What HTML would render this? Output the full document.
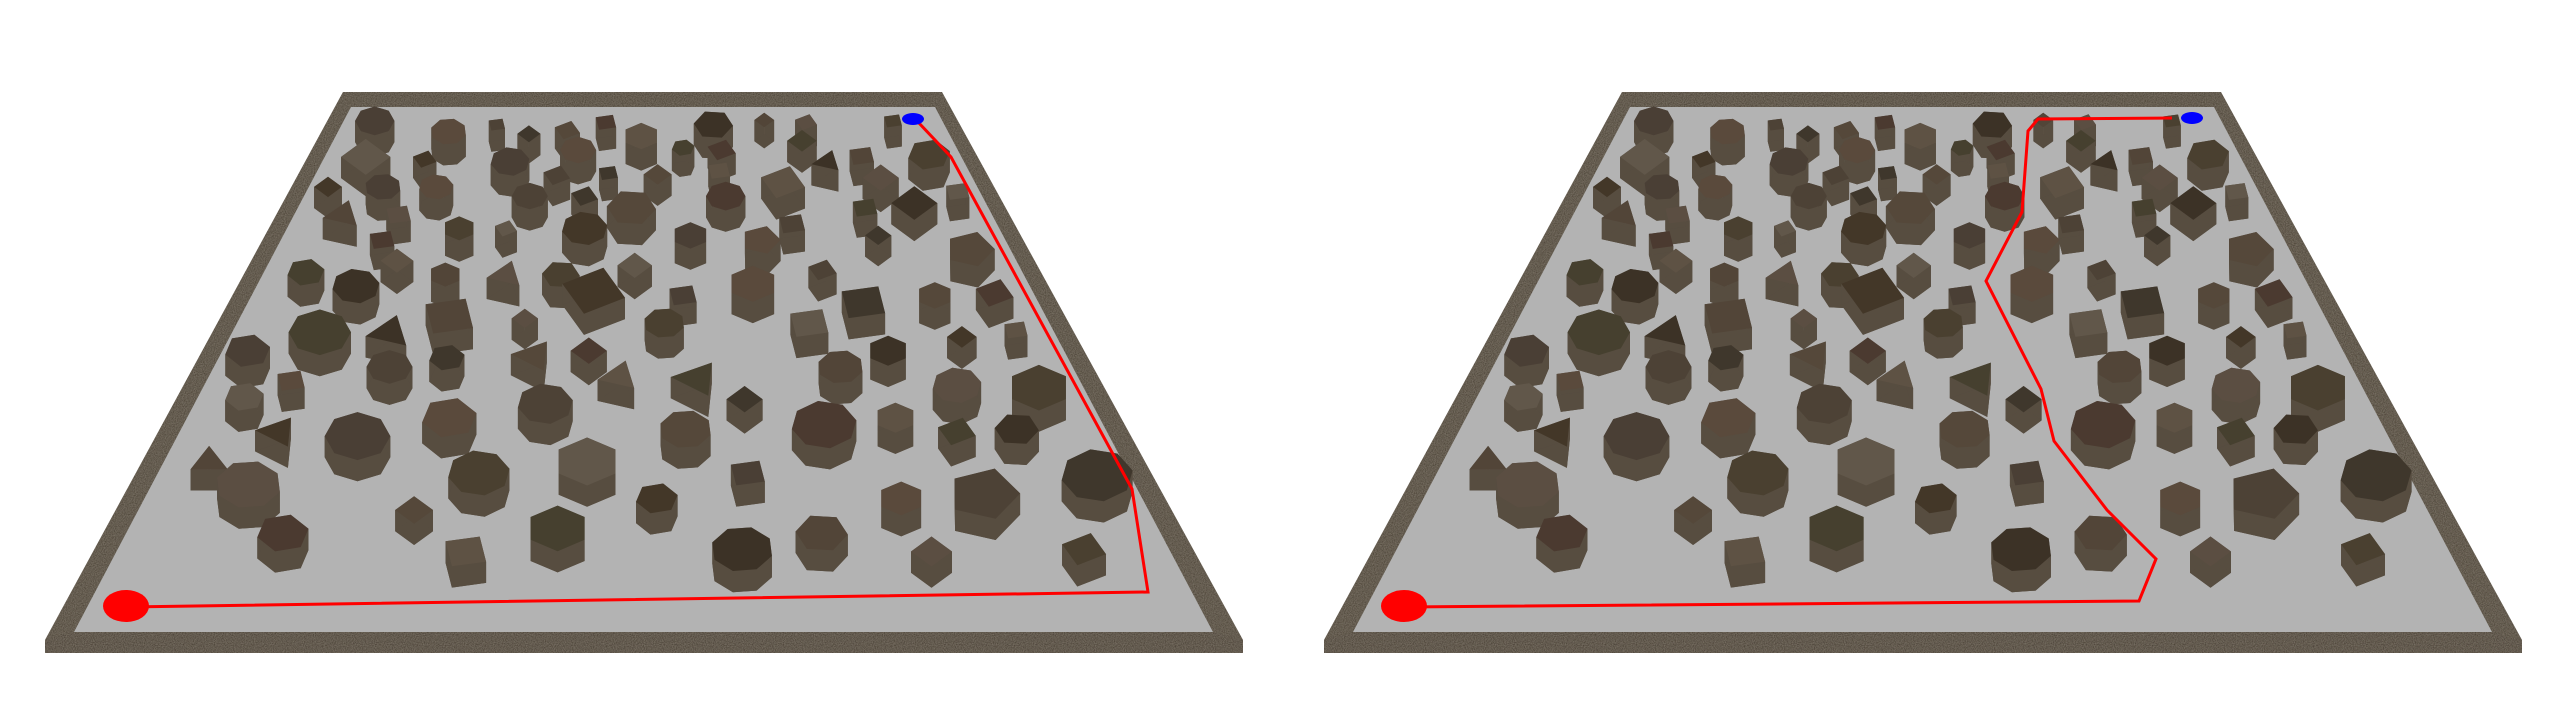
<!DOCTYPE html>
<html><head><meta charset="utf-8"><style>
html,body{margin:0;padding:0;background:#fff;}
svg{display:block;}
</style></head>
<body>
<svg id="scene" width="2560" height="720" viewBox="0 0 2560 720" xmlns="http://www.w3.org/2000/svg">
<defs>
<filter id="grain" x="0" y="0" width="100%" height="100%">
<feTurbulence type="fractalNoise" baseFrequency="0.9" numOctaves="2" result="n"/>
<feColorMatrix in="n" type="matrix" values="0 0 0 0 0.22  0 0 0 0 0.19  0 0 0 0 0.15  0 0 0 -1.2 1" result="c"/>
<feComposite in="c" in2="SourceGraphic" operator="in" result="t"/>
<feMerge><feMergeNode in="SourceGraphic"/><feMergeNode in="t"/></feMerge>
</filter>
</defs>
<g id="panels"></g>
</svg>
<script>
// obstacles: [cx, cy, radius, sides] in reference-zoom coordinates
const obsX=[457,547,606,645,692,739,782,833,870,932,983,1089,446,518,622,705,679,742,802,880,877,978,1009,1051,1074,1133,1168,400,467,532,646,713,770,885,955,1055,1115,418,486,560,617,713,842,928,966,1071,1183,466,484,373,434,543,617,684,774,724,833,918,1003,1053,1140,1213,1239,390,475,548,640,810,987,1173,302,355,475,545,651,718,755,850,1083,1025,1167,1267,298,339,436,548,665,908,836,1005,1092,1167,1240,255,303,584,716,801,912,1099,1200,1338,505,345,568,680,905,1002,1136,1322];
const obsY=[262,285,270,290,282,265,295,320,270,260,265,262,340,345,350,325,380,375,378,325,370,305,350,338,385,335,415,405,405,405,425,425,450,425,395,450,440,465,465,495,495,495,510,520,485,510,540,520,565,590,620,595,595,595,575,630,640,615,585,655,640,635,715,720,720,685,690,700,700,730,760,825,795,775,770,760,815,820,760,795,835,840,860,935,945,905,875,865,930,920,905,935,930,1000,1050,1025,1000,1080,1025,1080,1070,1030,1105,1155,1195,1145,1190,1155,1195,1190];
const obsR=[24,22,12,14,16,15,22,14,24,12,14,13,30,15,24,22,17,14,17,18,16,18,20,18,22,26,17,17,22,21,22,17,30,24,28,18,28,25,18,20,14,28,22,24,19,16,30,18,20,23,29,20,24,23,21,40,20,30,18,32,22,24,17,38,30,35,16,25,28,18,28,20,28,22,28,22,27,32,25,28,30,38,24,28,40,34,34,22,32,40,25,24,27,26,40,38,40,26,25,28,44,44,23,32,30,38,38,32,25,28];
const obsSides=[8,8,4,4,4,4,6,6,6,4,4,4,4,4,8,8,4,4,4,4,4,4,3,4,4,6,4,4,8,8,8,4,6,8,4,4,4,3,4,6,4,8,6,5,4,4,5,4,4,6,8,6,3,6,4,4,4,6,4,4,6,4,4,8,3,4,4,8,4,4,6,4,8,6,3,4,3,3,6,8,8,6,6,3,8,6,8,4,8,8,6,4,6,3,8,8,6,6,4,6,5,8,4,6,4,6,8,6,4,4];
// path waypoints (px) for each panel
const pathLeftX=[127,1148,1132,951,918];
const pathLeftY=[607,592,489,157,122];
const pathRightX=[1404,2139,2156,2107,2054,2041,1986,2022,2028,2038,2172];
const pathRightY=[607,601,559,510,441,389,281,212,131,119,118];
const startX=[126,1404], startY=[606,606];
const goalX=[913,2192], goalY=[119,118];

const SX=0.82, SY=0.4615, RY=1.3, RK=1.0, H=46;
const tops=['#4a3f35','#5a4a3c','#4d4236','#3f372c','#55483a','#4b3a30','#5e5244','#46402f','#3c3226','#524538','#5b4e42','#4a4030','#61574a','#433728'];
const NS='http://www.w3.org/2000/svg';
const root=document.getElementById('panels');
function mk(t,a,p){const e=document.createElementNS(NS,t);for(const k in a)e.setAttribute(k,a[k]);(p||root).appendChild(e);return e;}
function pts(a){return a.map(p=>p[0].toFixed(1)+','+p[1].toFixed(1)).join(' ');}

[0,1279].forEach((off,pi)=>{
  const g=mk('g',{});
  
  
  const f=mk('polygon',{points:pts([[343+off,92],[942+off,92],[1243+off,640],[1243+off,653],[45+off,653],[45+off,640]]),fill:'#4e4539',filter:'url(#grain)'},g);
  
  
  const fl=mk('polygon',{points:pts([[351+off,107],[935+off,107],[1213+off,632],[74+off,632]]),fill:'#b3b3b3'},g);
  
  
  mk('polygon',{points:pts([[45+off,640],[74+off,632],[1213+off,632],[1243+off,640],[1243+off,653],[45+off,653]]),fill:'#4a4136',filter:'url(#grain)'},g);
  const idx=obsX.map((_,i)=>i).sort((a,b)=>obsY[a]-obsY[b]);
  idx.forEach(i=>{
    const n=obsSides[i], r=obsR[i]*RK, cx=obsX[i], cy=obsY[i];
    const top=[];
    for(let k=0;k<n;k++){const a=-Math.PI/2+k*2*Math.PI/n+(i%3)*0.3;top.push([(cx+r*Math.cos(a))*SX+off,(cy+r*RY*Math.sin(a))*SY]);}
    const dh=H*SY;
    const og=mk('g',{},g);
    
    
    for(let k=0;k<n;k++){const p=top[k],q=top[(k+1)%n];
      mk('polygon',{points:pts([p,q,[q[0],q[1]+dh],[p[0],p[1]+dh]]),fill:'#574d40'},og);}
    mk('polygon',{points:pts(top.map(p=>[p[0],p[1]+dh])),fill:'#574d40'},og);
    mk('polygon',{points:pts(top),fill:tops[i%tops.length]},og);
  });
  const px=pi?pathRightX:pathLeftX, py=pi?pathRightY:pathLeftY;
  const pl=mk('polyline',{points:px.map((x,k)=>x+','+py[k]).join(' '),fill:'none',stroke:'#ff0000','stroke-width':3},g);
  
  
  const s=mk('ellipse',{cx:startX[pi],cy:startY[pi],rx:23,ry:16,fill:'#ff0000'},g);
  
  
  const gl=mk('ellipse',{cx:goalX[pi],cy:goalY[pi],rx:11,ry:6,fill:'#0000ff'},g);
  
  
});
</script>
</body></html>
